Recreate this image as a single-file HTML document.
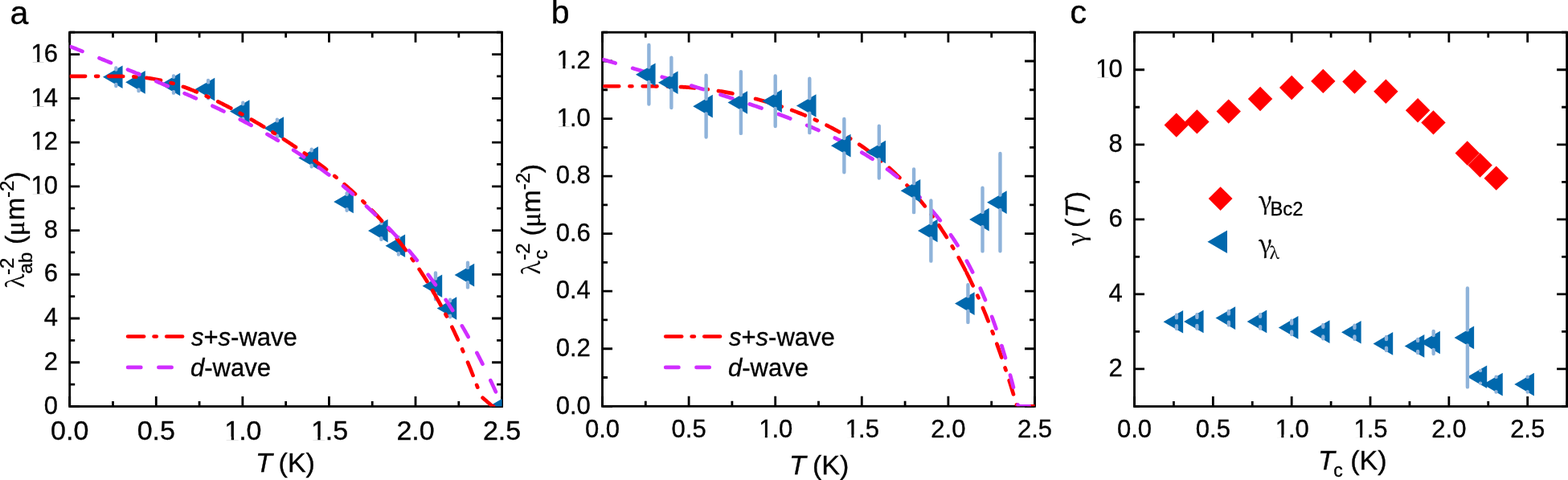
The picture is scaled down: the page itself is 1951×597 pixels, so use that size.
<!DOCTYPE html>
<html><head><meta charset="utf-8"><title>figure</title>
<style>html,body{margin:0;padding:0;background:#fff;overflow:hidden}svg{display:block}text{stroke:#000;stroke-width:0.35px;paint-order:stroke}</style>
</head><body>
<svg width="1951" height="597" viewBox="0 0 1951 597" font-family="'Liberation Sans', sans-serif">
<rect width="1951" height="597" fill="#fff"/>
<clipPath id="ca"><rect x="86.70" y="40.20" width="537.90" height="465.30"/></clipPath>
<path d="M86.70 505.50v-12.5M86.70 40.20v12.5M194.28 505.50v-12.5M194.28 40.20v12.5M301.86 505.50v-12.5M301.86 40.20v12.5M409.44 505.50v-12.5M409.44 40.20v12.5M517.02 505.50v-12.5M517.02 40.20v12.5M624.60 505.50v-12.5M624.60 40.20v12.5M140.49 505.50v-6.5M140.49 40.20v6.5M248.07 505.50v-6.5M248.07 40.20v6.5M355.65 505.50v-6.5M355.65 40.20v6.5M463.23 505.50v-6.5M463.23 40.20v6.5M570.81 505.50v-6.5M570.81 40.20v6.5M86.70 505.50h12.5M624.60 505.50h-12.5M86.70 450.76h12.5M624.60 450.76h-12.5M86.70 396.02h12.5M624.60 396.02h-12.5M86.70 341.28h12.5M624.60 341.28h-12.5M86.70 286.54h12.5M624.60 286.54h-12.5M86.70 231.79h12.5M624.60 231.79h-12.5M86.70 177.05h12.5M624.60 177.05h-12.5M86.70 122.31h12.5M624.60 122.31h-12.5M86.70 67.57h12.5M624.60 67.57h-12.5M86.70 478.13h6.5M624.60 478.13h-6.5M86.70 423.39h6.5M624.60 423.39h-6.5M86.70 368.65h6.5M624.60 368.65h-6.5M86.70 313.91h6.5M624.60 313.91h-6.5M86.70 259.16h6.5M624.60 259.16h-6.5M86.70 204.42h6.5M624.60 204.42h-6.5M86.70 149.68h6.5M624.60 149.68h-6.5M86.70 94.94h6.5M624.60 94.94h-6.5M86.70 40.20h6.5M624.60 40.20h-6.5" stroke="#000" stroke-width="2.8" fill="none"/>
<rect x="86.70" y="40.20" width="537.90" height="465.30" stroke="#000" stroke-width="2.8" fill="none"/>
<text x="72.00" y="514.70" font-size="31" text-anchor="end" >0</text>
<text x="72.00" y="459.96" font-size="31" text-anchor="end" >2</text>
<text x="72.00" y="405.22" font-size="31" text-anchor="end" >4</text>
<text x="72.00" y="350.48" font-size="31" text-anchor="end" >6</text>
<text x="72.00" y="295.74" font-size="31" text-anchor="end" >8</text>
<text x="37.52" y="240.99" font-size="31" ><tspan dx="1.02">1</tspan><tspan dx="-1.02">0</tspan></text>
<text x="37.52" y="186.25" font-size="31" ><tspan dx="1.02">1</tspan><tspan dx="-1.02">2</tspan></text>
<text x="37.52" y="131.51" font-size="31" ><tspan dx="1.02">1</tspan><tspan dx="-1.02">4</tspan></text>
<text x="37.52" y="76.77" font-size="31" ><tspan dx="1.02">1</tspan><tspan dx="-1.02">6</tspan></text>
<text x="86.70" y="547.00" font-size="34" text-anchor="middle" >0.0</text>
<text x="194.28" y="547.00" font-size="34" text-anchor="middle" >0.5</text>
<text x="278.23" y="547.00" font-size="34" ><tspan dx="1.12">1</tspan><tspan dx="-1.12">.</tspan>0</text>
<text x="385.81" y="547.00" font-size="34" ><tspan dx="1.12">1</tspan><tspan dx="-1.12">.</tspan>5</text>
<text x="517.02" y="547.00" font-size="34" text-anchor="middle" >2.0</text>
<text x="624.60" y="547.00" font-size="34" text-anchor="middle" >2.5</text>
<g clip-path="url(#ca)">
<path d="M127.96 95.76L152.56 81.46L152.56 110.06Z" fill="#0068AD"/>
<path d="M156.15 102.33L180.75 88.03L180.75 116.63Z" fill="#0068AD"/>
<path d="M199.61 105.07L224.21 90.77L224.21 119.37Z" fill="#0068AD"/>
<path d="M242.64 111.09L267.24 96.79L267.24 125.39Z" fill="#0068AD"/>
<path d="M285.89 138.46L310.49 124.16L310.49 152.76Z" fill="#0068AD"/>
<path d="M328.49 159.54L353.09 145.24L353.09 173.84Z" fill="#0068AD"/>
<path d="M371.31 196.49L395.91 182.19L395.91 210.79Z" fill="#0068AD"/>
<path d="M415.20 250.95L439.80 236.65L439.80 265.25Z" fill="#0068AD"/>
<path d="M458.02 287.08L482.62 272.78L482.62 301.38Z" fill="#0068AD"/>
<path d="M479.53 305.69L504.13 291.39L504.13 319.99Z" fill="#0068AD"/>
<path d="M525.58 355.78L550.18 341.48L550.18 370.08Z" fill="#0068AD"/>
<path d="M543.65 383.43L568.25 369.13L568.25 397.73Z" fill="#0068AD"/>
<path d="M565.60 342.10L590.20 327.80L590.20 356.40Z" fill="#0068AD"/>
<path d="M608.20 505.50L632.80 491.20L632.80 519.80Z" fill="#0068AD"/>
<path d="M144.36 84.46V86.56M144.36 104.96V107.06" stroke="#8FB3DA" stroke-width="4.4" stroke-linecap="round" fill="none"/>
<path d="M172.55 91.53V93.13M172.55 111.53V113.13" stroke="#8FB3DA" stroke-width="4.4" stroke-linecap="round" fill="none"/>
<path d="M216.01 94.47V95.87M216.01 114.27V115.67" stroke="#8FB3DA" stroke-width="4.4" stroke-linecap="round" fill="none"/>
<path d="M259.04 99.89V102.39M259.04 119.79V122.29" stroke="#8FB3DA" stroke-width="4.4" stroke-linecap="round" fill="none"/>
<path d="M302.29 127.66V129.26M302.29 147.66V149.26" stroke="#8FB3DA" stroke-width="4.4" stroke-linecap="round" fill="none"/>
<path d="M344.89 148.74V150.34M344.89 168.74V170.34" stroke="#8FB3DA" stroke-width="4.4" stroke-linecap="round" fill="none"/>
<path d="M387.71 185.69V187.29M387.71 205.69V207.29" stroke="#8FB3DA" stroke-width="4.4" stroke-linecap="round" fill="none"/>
<path d="M431.60 240.15V241.75M431.60 260.15V261.75" stroke="#8FB3DA" stroke-width="4.4" stroke-linecap="round" fill="none"/>
<path d="M474.42 276.28V277.88M474.42 296.28V297.88" stroke="#8FB3DA" stroke-width="4.4" stroke-linecap="round" fill="none"/>
<path d="M495.93 294.89V296.49M495.93 314.89V316.49" stroke="#8FB3DA" stroke-width="4.4" stroke-linecap="round" fill="none"/>
<path d="M541.98 339.38V346.58M541.98 364.98V372.18" stroke="#8FB3DA" stroke-width="4.4" stroke-linecap="round" fill="none"/>
<path d="M560.05 372.63V374.23M560.05 392.63V394.23" stroke="#8FB3DA" stroke-width="4.4" stroke-linecap="round" fill="none"/>
<path d="M582.00 326.80V332.90M582.00 351.30V357.40" stroke="#8FB3DA" stroke-width="4.4" stroke-linecap="round" fill="none"/>
<polyline points="86.70,94.82 88.04,94.82 89.39,94.82 90.73,94.82 92.08,94.82 93.42,94.82 94.77,94.82 96.11,94.82 97.46,94.82 98.80,94.82 100.15,94.82 101.49,94.82 102.84,94.82 104.18,94.82 105.53,94.82 106.87,94.82 108.22,94.82 109.56,94.82 110.91,94.82 112.25,94.82 113.59,94.82 114.94,94.82 116.28,94.82 117.63,94.82 118.97,94.82 120.32,94.82 121.66,94.82 123.01,94.82 124.35,94.82 125.70,94.82 127.04,94.82 128.39,94.82 129.73,94.83 131.08,94.83 132.42,94.83 133.77,94.83 135.11,94.83 136.46,94.83 137.80,94.84 139.15,94.84 140.49,94.84 141.83,94.85 143.18,94.86 144.52,94.87 145.87,94.88 147.21,94.89 148.56,94.91 149.90,94.93 151.25,94.95 152.59,94.97 153.94,95.00 155.28,95.03 156.63,95.06 157.97,95.10 159.32,95.15 160.66,95.20 162.01,95.25 163.35,95.31 164.70,95.38 166.04,95.45 167.38,95.53 168.73,95.61 170.07,95.70 171.42,95.80 172.76,95.91 174.11,96.02 175.45,96.14 176.80,96.27 178.14,96.41 179.49,96.55 180.83,96.71 182.18,96.87 183.52,97.04 184.87,97.22 186.21,97.41 187.56,97.61 188.90,97.82 190.25,98.03 191.59,98.26 192.94,98.50 194.28,98.74 195.62,98.99 196.97,99.26 198.31,99.53 199.66,99.81 201.00,100.11 202.35,100.41 203.69,100.72 205.04,101.04 206.38,101.37 207.73,101.71 209.07,102.06 210.42,102.41 211.76,102.78 213.11,103.16 214.45,103.54 215.80,103.93 217.14,104.33 218.49,104.74 219.83,105.16 221.18,105.59 222.52,106.03 223.86,106.47 225.21,106.92 226.55,107.38 227.90,107.85 229.24,108.32 230.59,108.81 231.93,109.30 233.28,109.79 234.62,110.30 235.97,110.81 237.31,111.33 238.66,111.86 240.00,112.39 241.35,112.93 242.69,113.47 244.04,114.03 245.38,114.59 246.73,115.15 248.07,115.72 249.41,116.30 250.76,116.88 252.10,117.47 253.45,118.06 254.79,118.66 256.14,119.27 257.48,119.88 258.83,120.49 260.17,121.11 261.52,121.74 262.86,122.37 264.21,123.01 265.55,123.65 266.90,124.29 268.24,124.94 269.59,125.59 270.93,126.25 272.28,126.92 273.62,127.58 274.96,128.25 276.31,128.93 277.65,129.61 279.00,130.29 280.34,130.98 281.69,131.67 283.03,132.37 284.38,133.07 285.72,133.77 287.07,134.48 288.41,135.19 289.76,135.90 291.10,136.62 292.45,137.34 293.79,138.06 295.14,138.79 296.48,139.52 297.83,140.25 299.17,140.99 300.52,141.73 301.86,142.48 303.20,143.22 304.55,143.98 305.89,144.73 307.24,145.49 308.58,146.25 309.93,147.01 311.27,147.78 312.62,148.55 313.96,149.32 315.31,150.10 316.65,150.87 318.00,151.66 319.34,152.44 320.69,153.23 322.03,154.02 323.38,154.82 324.72,155.62 326.07,156.42 327.41,157.22 328.75,158.03 330.10,158.84 331.44,159.65 332.79,160.47 334.13,161.29 335.48,162.11 336.82,162.94 338.17,163.77 339.51,164.60 340.86,165.44 342.20,166.28 343.55,167.12 344.89,167.97 346.24,168.82 347.58,169.67 348.93,170.53 350.27,171.39 351.62,172.25 352.96,173.12 354.31,173.99 355.65,174.87 356.99,175.74 358.34,176.63 359.68,177.51 361.03,178.40 362.37,179.30 363.72,180.19 365.06,181.10 366.41,182.00 367.75,182.91 369.10,183.82 370.44,184.74 371.79,185.66 373.13,186.59 374.48,187.52 375.82,188.46 377.17,189.40 378.51,190.34 379.86,191.29 381.20,192.24 382.55,193.20 383.89,194.16 385.23,195.13 386.58,196.10 387.92,197.07 389.27,198.06 390.61,199.04 391.96,200.03 393.30,201.03 394.65,202.03 395.99,203.04 397.34,204.05 398.68,205.07 400.03,206.09 401.37,207.12 402.72,208.16 404.06,209.20 405.41,210.24 406.75,211.30 408.10,212.35 409.44,213.42 410.78,214.49 412.13,215.56 413.47,216.65 414.82,217.74 416.16,218.83 417.51,219.93 418.85,221.04 420.20,222.16 421.54,223.28 422.89,224.41 424.23,225.54 425.58,226.69 426.92,227.84 428.27,229.00 429.61,230.16 430.96,231.33 432.30,232.51 433.65,233.70 434.99,234.90 436.33,236.10 437.68,237.31 439.02,238.53 440.37,239.76 441.71,241.00 443.06,242.24 444.40,243.49 445.75,244.76 447.09,246.03 448.44,247.31 449.78,248.60 451.13,249.89 452.47,251.20 453.82,252.52 455.16,253.85 456.51,255.18 457.85,256.53 459.20,257.89 460.54,259.25 461.89,260.63 463.23,262.02 464.57,263.41 465.92,264.82 467.26,266.24 468.61,267.67 469.95,269.11 471.30,270.57 472.64,272.03 473.99,273.51 475.33,275.00 476.68,276.50 478.02,278.01 479.37,279.53 480.71,281.07 482.06,282.62 483.40,284.18 484.75,285.76 486.09,287.34 487.44,288.95 488.78,290.56 490.12,292.19 491.47,293.84 492.81,295.49 494.16,297.17 495.50,298.85 496.85,300.55 498.19,302.27 499.54,304.00 500.88,305.75 502.23,307.51 503.57,309.29 504.92,311.09 506.26,312.90 507.61,314.73 508.95,316.57 510.30,318.44 511.64,320.32 512.99,322.21 514.33,324.13 515.68,326.06 517.02,328.01 518.36,329.98 519.71,331.97 521.05,333.98 522.40,336.01 523.74,338.05 525.09,340.12 526.43,342.21 527.78,344.32 529.12,346.45 530.47,348.60 531.81,350.77 533.16,352.97 534.50,355.18 535.85,357.42 537.19,359.68 538.54,361.97 539.88,364.28" stroke="#FF0000" stroke-width="4.7" stroke-dasharray="18 13.05 3 13.05" stroke-dashoffset="-1.43" stroke-linecap="round" stroke-linejoin="round" fill="none"/><polyline points="539.88,364.28 541.23,366.61 542.57,368.97 543.91,371.35 545.26,373.76 546.60,376.19 547.95,378.65 549.29,381.13 550.64,383.64 551.98,386.18 553.33,388.74 554.67,391.33 556.02,393.95 557.36,396.60 558.71,399.28 560.05,401.98 561.40,404.72 562.74,407.48 564.09,410.28 565.43,413.11 566.78,415.97 568.12,418.86 569.47,421.78 570.81,424.73 572.15,427.72 573.50,430.74 574.84,433.79 576.19,436.88 577.53,440.00 578.88,443.16 580.22,446.35 581.57,449.58 582.91,452.84 584.26,456.14 585.60,459.47 586.95,462.84 588.29,466.24 589.64,469.69 590.98,473.16 592.33,476.67 593.67,480.22 595.02,483.79 596.36,487.40 597.70,491.04 599.05,493.40 600.39,494.57 601.74,495.73 603.08,496.90 604.43,498.07 605.77,499.24 607.12,500.41 608.46,501.58 609.81,502.74 611.15,503.91 612.50,505.08 613.84,505.50 615.19,505.50 616.53,505.50 617.88,505.50 619.22,505.50 620.57,505.50 621.91,505.50 623.26,505.50 624.60,505.50" stroke="#FF0000" stroke-width="4.7" stroke-dasharray="17.5 12.8 3 14.8" stroke-dashoffset="0" stroke-linecap="round" stroke-linejoin="round" fill="none"/>
<polyline points="86.70,57.54 88.04,58.17 89.39,58.62 90.73,59.16 92.08,59.70 93.42,60.23 94.77,60.77 96.11,61.31 97.46,61.85 98.80,62.39 100.15,62.93 101.49,63.47 102.84,64.00 104.18,64.54 105.53,65.08 106.87,65.62 108.22,66.16 109.56,66.70 110.91,67.24 112.25,67.78 113.59,68.32 114.94,68.86 116.28,69.40 117.63,69.94 118.97,70.47 120.32,71.01 121.66,71.55 123.01,72.09 124.35,72.64 125.70,73.18 127.04,73.72 128.39,74.26 129.73,74.80 131.08,75.34 132.42,75.88 133.77,76.42 135.11,76.96 136.46,77.50 137.80,78.05 139.15,78.59 140.49,79.13 141.83,79.67 143.18,80.22 144.52,80.76 145.87,81.30 147.21,81.85 148.56,82.39 149.90,82.93 151.25,83.48 152.59,84.02 153.94,84.57 155.28,85.11 156.63,85.66 157.97,86.20 159.32,86.75 160.66,87.30 162.01,87.84 163.35,88.39 164.70,88.94 166.04,89.48 167.38,90.03 168.73,90.58 170.07,91.13 171.42,91.68 172.76,92.23 174.11,92.78 175.45,93.33 176.80,93.88 178.14,94.43 179.49,94.99 180.83,95.54 182.18,96.09 183.52,96.65 184.87,97.20 186.21,97.76 187.56,98.31 188.90,98.87 190.25,99.42 191.59,99.98 192.94,100.54 194.28,101.10 195.62,101.66 196.97,102.22 198.31,102.78 199.66,103.34 201.00,103.91 202.35,104.47 203.69,105.03 205.04,105.60 206.38,106.16 207.73,106.73 209.07,107.30 210.42,107.87 211.76,108.44 213.11,109.01 214.45,109.58 215.80,110.15 217.14,110.73 218.49,111.30 219.83,111.88 221.18,112.45 222.52,113.03 223.86,113.61 225.21,114.19 226.55,114.77 227.90,115.36 229.24,115.94 230.59,116.53 231.93,117.11 233.28,117.70 234.62,118.29 235.97,118.88 237.31,119.48 238.66,120.07 240.00,120.67 241.35,121.26 242.69,121.86 244.04,122.46 245.38,123.06 246.73,123.67 248.07,124.27 249.41,124.88 250.76,125.49 252.10,126.10 253.45,126.71 254.79,127.33 256.14,127.94 257.48,128.56 258.83,129.18 260.17,129.80 261.52,130.43 262.86,131.05 264.21,131.68 265.55,132.31 266.90,132.94 268.24,133.58 269.59,134.21 270.93,134.85 272.28,135.49 273.62,136.13 274.96,136.78 276.31,137.43 277.65,138.08 279.00,138.73 280.34,139.38 281.69,140.04 283.03,140.70 284.38,141.36 285.72,142.03 287.07,142.69 288.41,143.36 289.76,144.03 291.10,144.71 292.45,145.39 293.79,146.07 295.14,146.75 296.48,147.43 297.83,148.12 299.17,148.81 300.52,149.51 301.86,150.20 303.20,150.90 304.55,151.60 305.89,152.31 307.24,153.02 308.58,153.73 309.93,154.44 311.27,155.16 312.62,155.88 313.96,156.60 315.31,157.33 316.65,158.06 318.00,158.79 319.34,159.53 320.69,160.27 322.03,161.01 323.38,161.76 324.72,162.51 326.07,163.26 327.41,164.01 328.75,164.77 330.10,165.54 331.44,166.30 332.79,167.07 334.13,167.84 335.48,168.62 336.82,169.40 338.17,170.18 339.51,170.97 340.86,171.76 342.20,172.56 343.55,173.35 344.89,174.16 346.24,174.96 347.58,175.77 348.93,176.59 350.27,177.40 351.62,178.22 352.96,179.05 354.31,179.88 355.65,180.71 356.99,181.55 358.34,182.39 359.68,183.23 361.03,184.08 362.37,184.94 363.72,185.79 365.06,186.65 366.41,187.52 367.75,188.39 369.10,189.26 370.44,190.14 371.79,191.03 373.13,191.91 374.48,192.80 375.82,193.70 377.17,194.60 378.51,195.50 379.86,196.41 381.20,197.33 382.55,198.25 383.89,199.17 385.23,200.10 386.58,201.03 387.92,201.97 389.27,202.91 390.61,203.86 391.96,204.81 393.30,205.77 394.65,206.73 395.99,207.69 397.34,208.66 398.68,209.64 400.03,210.62 401.37,211.61 402.72,212.60 404.06,213.60 405.41,214.60 406.75,215.61 408.10,216.62 409.44,217.64 410.78,218.66 412.13,219.69 413.47,220.73 414.82,221.77 416.16,222.81 417.51,223.86 418.85,224.92 420.20,225.98 421.54,227.05 422.89,228.13 424.23,229.21 425.58,230.29 426.92,231.38 428.27,232.48 429.61,233.59 430.96,234.70 432.30,235.81 433.65,236.94 434.99,238.06 436.33,239.20 437.68,240.34 439.02,241.49 440.37,242.64 441.71,243.81 443.06,244.97 444.40,246.15 445.75,247.33 447.09,248.52 448.44,249.71 449.78,250.91 451.13,252.12 452.47,253.34 453.82,254.56 455.16,255.79 456.51,257.03 457.85,258.27 459.20,259.52 460.54,260.78 461.89,262.05 463.23,263.32 464.57,264.61 465.92,265.90 467.26,267.19 468.61,268.50 469.95,269.81 471.30,271.13 472.64,272.46 473.99,273.80 475.33,275.15 476.68,276.50 478.02,277.86 479.37,279.24 480.71,280.62 482.06,282.00 483.40,283.40 484.75,284.81 486.09,286.22 487.44,287.65 488.78,289.08 490.12,290.52 491.47,291.98 492.81,293.44 494.16,294.91 495.50,296.39 496.85,297.88 498.19,299.38 499.54,300.89 500.88,302.41 502.23,303.94 503.57,305.48 504.92,307.03 506.26,308.59 507.61,310.17 508.95,311.75 510.30,313.34 511.64,314.95 512.99,316.56 514.33,318.19 515.68,319.83 517.02,321.48 518.36,323.14 519.71,324.81 521.05,326.50 522.40,328.19 523.74,329.90 525.09,331.62 526.43,333.35 527.78,335.10 529.12,336.86 530.47,338.63 531.81,340.41 533.16,342.21 534.50,344.02 535.85,345.85 537.19,347.68 538.54,349.53 539.88,351.40 541.23,353.28 542.57,355.17 543.91,357.08 545.26,359.00 546.60,360.94 547.95,362.89 549.29,364.85 550.64,366.84 551.98,368.83 553.33,370.84 554.67,372.87 556.02,374.92 557.36,376.98 558.71,379.05 560.05,381.15 561.40,383.26 562.74,385.38 564.09,387.53 565.43,389.69 566.78,391.86 568.12,394.06 569.47,396.27 570.81,398.51 572.15,400.76 573.50,403.02 574.84,405.31 576.19,407.62 577.53,409.94 578.88,412.29 580.22,414.65 581.57,417.03 582.91,419.44 584.26,421.86 585.60,424.30 586.95,426.77 588.29,429.25 589.64,431.76 590.98,434.29 592.33,436.84 593.67,439.41 595.02,442.00 596.36,444.61 597.70,447.25 599.05,449.90 600.39,452.58 601.74,455.29 603.08,458.01 604.43,460.76 605.77,463.53 607.12,466.32 608.46,469.14 609.81,471.98 611.15,474.84 612.50,477.72 613.84,480.62 615.19,483.55 616.53,486.49 617.88,489.46 619.22,492.44 620.57,495.43 621.91,498.44 623.26,501.45 624.60,504.43" stroke="#D02EFF" stroke-width="4.7" stroke-dasharray="15.6 22.65" stroke-dashoffset="-1.4" stroke-linecap="round" stroke-linejoin="round" fill="none"/>
</g>
<clipPath id="cb"><rect x="749.50" y="40.20" width="538.00" height="465.10"/></clipPath>
<path d="M749.50 505.30v-12.5M749.50 40.20v12.5M857.10 505.30v-12.5M857.10 40.20v12.5M964.70 505.30v-12.5M964.70 40.20v12.5M1072.30 505.30v-12.5M1072.30 40.20v12.5M1179.90 505.30v-12.5M1179.90 40.20v12.5M1287.50 505.30v-12.5M1287.50 40.20v12.5M803.30 505.30v-6.5M803.30 40.20v6.5M910.90 505.30v-6.5M910.90 40.20v6.5M1018.50 505.30v-6.5M1018.50 40.20v6.5M1126.10 505.30v-6.5M1126.10 40.20v6.5M1233.70 505.30v-6.5M1233.70 40.20v6.5M749.50 505.30h12.5M1287.50 505.30h-12.5M749.50 433.75h12.5M1287.50 433.75h-12.5M749.50 362.19h12.5M1287.50 362.19h-12.5M749.50 290.64h12.5M1287.50 290.64h-12.5M749.50 219.08h12.5M1287.50 219.08h-12.5M749.50 147.53h12.5M1287.50 147.53h-12.5M749.50 75.98h12.5M1287.50 75.98h-12.5M749.50 469.52h6.5M1287.50 469.52h-6.5M749.50 397.97h6.5M1287.50 397.97h-6.5M749.50 326.42h6.5M1287.50 326.42h-6.5M749.50 254.86h6.5M1287.50 254.86h-6.5M749.50 183.31h6.5M1287.50 183.31h-6.5M749.50 111.75h6.5M1287.50 111.75h-6.5M749.50 40.20h6.5M1287.50 40.20h-6.5" stroke="#000" stroke-width="2.8" fill="none"/>
<rect x="749.50" y="40.20" width="538.00" height="465.10" stroke="#000" stroke-width="2.8" fill="none"/>
<text x="734.80" y="514.50" font-size="31" text-anchor="end" >0.0</text>
<text x="734.80" y="442.95" font-size="31" text-anchor="end" >0.2</text>
<text x="734.80" y="371.39" font-size="31" text-anchor="end" >0.4</text>
<text x="734.80" y="299.84" font-size="31" text-anchor="end" >0.6</text>
<text x="734.80" y="228.28" font-size="31" text-anchor="end" >0.8</text>
<text x="691.71" y="156.73" font-size="31" ><tspan dx="1.02">1</tspan><tspan dx="-1.02">.</tspan>0</text>
<text x="691.71" y="85.18" font-size="31" ><tspan dx="1.02">1</tspan><tspan dx="-1.02">.</tspan>2</text>
<text x="749.50" y="544.30" font-size="31" text-anchor="middle" >0.0</text>
<text x="857.10" y="544.30" font-size="31" text-anchor="middle" >0.5</text>
<text x="943.15" y="544.30" font-size="31" ><tspan dx="1.02">1</tspan><tspan dx="-1.02">.</tspan>0</text>
<text x="1050.75" y="544.30" font-size="31" ><tspan dx="1.02">1</tspan><tspan dx="-1.02">.</tspan>5</text>
<text x="1179.90" y="544.30" font-size="31" text-anchor="middle" >2.0</text>
<text x="1287.50" y="544.30" font-size="31" text-anchor="middle" >2.5</text>
<g clip-path="url(#cb)">
<polyline points="749.50,107.23 750.85,107.23 752.19,107.23 753.53,107.23 754.88,107.23 756.23,107.23 757.57,107.23 758.91,107.23 760.26,107.23 761.61,107.23 762.95,107.23 764.29,107.23 765.64,107.23 766.99,107.23 768.33,107.23 769.67,107.23 771.02,107.23 772.37,107.23 773.71,107.23 775.05,107.23 776.40,107.23 777.75,107.23 779.09,107.23 780.44,107.23 781.78,107.23 783.12,107.23 784.47,107.23 785.82,107.23 787.16,107.23 788.50,107.23 789.85,107.23 791.20,107.23 792.54,107.23 793.88,107.23 795.23,107.23 796.58,107.23 797.92,107.23 799.26,107.23 800.61,107.23 801.96,107.24 803.30,107.24 804.64,107.24 805.99,107.24 807.34,107.24 808.68,107.25 810.02,107.25 811.37,107.26 812.72,107.26 814.06,107.27 815.40,107.28 816.75,107.29 818.10,107.30 819.44,107.31 820.78,107.33 822.13,107.34 823.48,107.36 824.82,107.38 826.16,107.40 827.51,107.42 828.86,107.45 830.20,107.48 831.55,107.51 832.89,107.55 834.24,107.58 835.58,107.62 836.92,107.67 838.27,107.71 839.62,107.76 840.96,107.81 842.31,107.87 843.65,107.93 845.00,107.99 846.34,108.06 847.69,108.13 849.03,108.21 850.38,108.28 851.72,108.37 853.07,108.45 854.41,108.54 855.75,108.64 857.10,108.74 858.44,108.84 859.79,108.95 861.13,109.06 862.48,109.17 863.83,109.29 865.17,109.42 866.51,109.55 867.86,109.68 869.21,109.82 870.55,109.96 871.89,110.10 873.24,110.25 874.59,110.41 875.93,110.57 877.27,110.73 878.62,110.90 879.97,111.07 881.31,111.24 882.65,111.42 884.00,111.61 885.35,111.80 886.69,111.99 888.03,112.19 889.38,112.39 890.73,112.59 892.07,112.80 893.41,113.02 894.76,113.24 896.11,113.46 897.45,113.68 898.80,113.91 900.14,114.15 901.49,114.39 902.83,114.63 904.17,114.87 905.52,115.12 906.87,115.38 908.21,115.64 909.56,115.90 910.90,116.16 912.25,116.43 913.59,116.71 914.93,116.99 916.28,117.27 917.62,117.55 918.97,117.84 920.32,118.14 921.66,118.43 923.00,118.73 924.35,119.04 925.69,119.35 927.04,119.66 928.38,119.98 929.73,120.30 931.08,120.62 932.42,120.95 933.76,121.28 935.11,121.61 936.46,121.95 937.80,122.30 939.14,122.64 940.49,123.00 941.84,123.35 943.18,123.71 944.52,124.07 945.87,124.44 947.22,124.81 948.56,125.19 949.90,125.56 951.25,125.95 952.60,126.33 953.94,126.72 955.28,127.12 956.63,127.52 957.98,127.92 959.32,128.33 960.66,128.74 962.01,129.16 963.36,129.58 964.70,130.00 966.05,130.43 967.39,130.86 968.74,131.30 970.08,131.74 971.42,132.19 972.77,132.64 974.12,133.09 975.46,133.55 976.81,134.02 978.15,134.48 979.50,134.96 980.84,135.43 982.18,135.92 983.53,136.40 984.88,136.90 986.22,137.39 987.57,137.90 988.91,138.40 990.25,138.91 991.60,139.43 992.94,139.95 994.29,140.48 995.63,141.01 996.98,141.55 998.33,142.09 999.67,142.64 1001.01,143.19 1002.36,143.75 1003.71,144.32 1005.05,144.89 1006.39,145.46 1007.74,146.04 1009.09,146.63 1010.43,147.22 1011.77,147.82 1013.12,148.42 1014.47,149.03 1015.81,149.65 1017.15,150.27 1018.50,150.90 1019.85,151.53 1021.19,152.17 1022.54,152.82 1023.88,153.47 1025.22,154.13 1026.57,154.79 1027.91,155.47 1029.26,156.14 1030.61,156.83 1031.95,157.52 1033.30,158.22 1034.64,158.93 1035.99,159.64 1037.33,160.36 1038.67,161.09 1040.02,161.82 1041.37,162.56 1042.71,163.31 1044.06,164.06 1045.40,164.83 1046.74,165.60 1048.09,166.38 1049.43,167.16 1050.78,167.96 1052.12,168.76 1053.47,169.57 1054.82,170.39 1056.16,171.21 1057.51,172.05 1058.85,172.89 1060.19,173.74 1061.54,174.60 1062.88,175.47 1064.23,176.34 1065.58,177.23 1066.92,178.12 1068.26,179.02 1069.61,179.94 1070.95,180.86 1072.30,181.79 1073.64,182.73 1074.99,183.68 1076.34,184.64 1077.68,185.60 1079.03,186.58 1080.37,187.57 1081.72,188.57 1083.06,189.58 1084.40,190.59 1085.75,191.62 1087.10,192.66 1088.44,193.71 1089.79,194.77 1091.13,195.84 1092.47,196.92 1093.82,198.02 1095.16,199.12 1096.51,200.24 1097.86,201.36 1099.20,202.50 1100.55,203.65 1101.89,204.81 1103.24,205.99 1104.58,207.17 1105.92,208.37 1107.27,209.58 1108.62,210.80 1109.96,212.04 1111.31,213.29 1112.65,214.55 1113.99,215.82 1115.34,217.11 1116.68,218.41 1118.03,219.73 1119.38,221.05 1120.72,222.40 1122.07,223.75 1123.41,225.12 1124.76,226.51 1126.10,227.91 1127.44,229.32 1128.79,230.75 1130.13,232.20 1131.48,233.66 1132.83,235.13 1134.17,236.63 1135.51,238.13 1136.86,239.66 1138.20,241.20 1139.55,242.75 1140.89,244.33 1142.24,245.92 1143.59,247.52 1144.93,249.15 1146.28,250.79 1147.62,252.45 1148.97,254.13 1150.31,255.82 1151.65,257.54 1153.00,259.27 1154.35,261.03 1155.69,262.80 1157.04,264.59 1158.38,266.40 1159.72,268.23 1161.07,270.09 1162.41,271.96 1163.76,273.85 1165.11,275.77 1166.45,277.70 1167.80,279.66 1169.14,281.64 1170.49,283.64 1171.83,285.67 1173.17,287.72 1174.52,289.79 1175.87,291.88 1177.21,294.00 1178.56,296.15 1179.90,298.31 1181.24,300.51 1182.59,302.72 1183.93,304.97 1185.28,307.24 1186.62,309.53 1187.97,311.85 1189.32,314.20 1190.66,316.58 1192.01,318.99 1193.35,321.42 1194.69,323.88 1196.04,326.37 1197.38,328.89 1198.73,331.44 1200.08,334.02 1201.42,336.63 1202.76,339.28" stroke="#FF0000" stroke-width="4.7" stroke-dasharray="17.8 13.23 3 13.23" stroke-dashoffset="-2.91" stroke-linecap="round" stroke-linejoin="round" fill="none"/><polyline points="1202.76,339.28 1204.11,341.95 1205.45,344.66 1206.80,347.39 1208.14,350.17 1209.49,352.97 1210.84,355.81 1212.18,358.68 1213.53,361.59 1214.87,364.53 1216.22,367.51 1217.56,370.53 1218.90,373.58 1220.25,376.67 1221.60,379.80 1222.94,382.97 1224.29,386.17 1225.63,389.42 1226.97,392.70 1228.32,396.03 1229.66,399.40 1231.01,402.80 1232.36,406.25 1233.70,409.75 1235.05,413.28 1236.39,416.86 1237.74,420.49 1239.08,424.16 1240.42,427.87 1241.77,431.63 1243.12,435.44 1244.46,439.29 1245.81,443.19 1247.15,447.14 1248.49,451.13 1249.84,455.18 1251.18,459.27 1252.53,463.40 1253.88,467.59 1255.22,471.82 1256.57,476.10 1257.91,480.42 1259.26,484.78 1260.60,489.19 1261.95,493.62 1263.29,498.08 1264.64,502.54 1265.98,505.30 1267.33,505.30 1268.67,505.30 1270.01,505.30 1271.36,505.30 1272.70,505.30 1274.05,505.30 1275.39,505.30 1276.74,505.30 1278.09,505.30 1279.43,505.30 1280.78,505.30 1282.12,505.30 1283.47,505.30 1284.81,505.30 1286.16,505.30 1287.50,505.30" stroke="#FF0000" stroke-width="4.7" stroke-dasharray="17.8 13.65 3 13.65" stroke-dashoffset="0" stroke-linecap="round" stroke-linejoin="round" fill="none"/>
<polyline points="749.50,73.75 750.85,74.31 752.19,74.56 753.53,74.94 754.88,75.33 756.23,75.73 757.57,76.13 758.91,76.52 760.26,76.92 761.61,77.31 762.95,77.71 764.29,78.11 765.64,78.50 766.99,78.90 768.33,79.29 769.67,79.69 771.02,80.09 772.37,80.48 773.71,80.88 775.05,81.28 776.40,81.67 777.75,82.07 779.09,82.47 780.44,82.86 781.78,83.26 783.12,83.65 784.47,84.05 785.82,84.45 787.16,84.85 788.50,85.24 789.85,85.64 791.20,86.04 792.54,86.43 793.88,86.83 795.23,87.23 796.58,87.62 797.92,88.02 799.26,88.42 800.61,88.82 801.96,89.21 803.30,89.61 804.64,90.01 805.99,90.41 807.34,90.81 808.68,91.20 810.02,91.60 811.37,92.00 812.72,92.40 814.06,92.80 815.40,93.20 816.75,93.59 818.10,93.99 819.44,94.39 820.78,94.79 822.13,95.19 823.48,95.59 824.82,95.99 826.16,96.39 827.51,96.79 828.86,97.19 830.20,97.59 831.55,97.99 832.89,98.39 834.24,98.79 835.58,99.20 836.92,99.60 838.27,100.00 839.62,100.40 840.96,100.80 842.31,101.21 843.65,101.61 845.00,102.01 846.34,102.41 847.69,102.82 849.03,103.22 850.38,103.63 851.72,104.03 853.07,104.44 854.41,104.84 855.75,105.25 857.10,105.65 858.44,106.06 859.79,106.47 861.13,106.87 862.48,107.28 863.83,107.69 865.17,108.10 866.51,108.51 867.86,108.91 869.21,109.32 870.55,109.73 871.89,110.14 873.24,110.56 874.59,110.97 875.93,111.38 877.27,111.79 878.62,112.20 879.97,112.62 881.31,113.03 882.65,113.45 884.00,113.86 885.35,114.28 886.69,114.70 888.03,115.11 889.38,115.53 890.73,115.95 892.07,116.37 893.41,116.79 894.76,117.21 896.11,117.63 897.45,118.05 898.80,118.48 900.14,118.90 901.49,119.32 902.83,119.75 904.17,120.17 905.52,120.60 906.87,121.03 908.21,121.46 909.56,121.89 910.90,122.32 912.25,122.75 913.59,123.18 914.93,123.62 916.28,124.05 917.62,124.49 918.97,124.92 920.32,125.36 921.66,125.80 923.00,126.24 924.35,126.68 925.69,127.12 927.04,127.56 928.38,128.01 929.73,128.45 931.08,128.90 932.42,129.35 933.76,129.80 935.11,130.25 936.46,130.70 937.80,131.15 939.14,131.61 940.49,132.07 941.84,132.52 943.18,132.98 944.52,133.44 945.87,133.91 947.22,134.37 948.56,134.84 949.90,135.30 951.25,135.77 952.60,136.24 953.94,136.71 955.28,137.19 956.63,137.66 957.98,138.14 959.32,138.62 960.66,139.10 962.01,139.58 963.36,140.07 964.70,140.56 966.05,141.04 967.39,141.54 968.74,142.03 970.08,142.52 971.42,143.02 972.77,143.52 974.12,144.02 975.46,144.52 976.81,145.03 978.15,145.54 979.50,146.05 980.84,146.56 982.18,147.08 983.53,147.60 984.88,148.12 986.22,148.64 987.57,149.16 988.91,149.69 990.25,150.22 991.60,150.76 992.94,151.29 994.29,151.83 995.63,152.37 996.98,152.92 998.33,153.46 999.67,154.02 1001.01,154.57 1002.36,155.13 1003.71,155.68 1005.05,156.25 1006.39,156.81 1007.74,157.38 1009.09,157.95 1010.43,158.53 1011.77,159.11 1013.12,159.69 1014.47,160.28 1015.81,160.87 1017.15,161.46 1018.50,162.06 1019.85,162.66 1021.19,163.26 1022.54,163.87 1023.88,164.48 1025.22,165.10 1026.57,165.72 1027.91,166.34 1029.26,166.97 1030.61,167.60 1031.95,168.24 1033.30,168.88 1034.64,169.52 1035.99,170.17 1037.33,170.82 1038.67,171.48 1040.02,172.14 1041.37,172.81 1042.71,173.48 1044.06,174.16 1045.40,174.84 1046.74,175.53 1048.09,176.22 1049.43,176.92 1050.78,177.62 1052.12,178.33 1053.47,179.04 1054.82,179.76 1056.16,180.48 1057.51,181.21 1058.85,181.94 1060.19,182.68 1061.54,183.43 1062.88,184.18 1064.23,184.94 1065.58,185.70 1066.92,186.47 1068.26,187.25 1069.61,188.03 1070.95,188.82 1072.30,189.62 1073.64,190.42 1074.99,191.23 1076.34,192.04 1077.68,192.87 1079.03,193.70 1080.37,194.53 1081.72,195.38 1083.06,196.23 1084.40,197.09 1085.75,197.95 1087.10,198.83 1088.44,199.71 1089.79,200.60 1091.13,201.50 1092.47,202.41 1093.82,203.32 1095.16,204.24 1096.51,205.17 1097.86,206.12 1099.20,207.06 1100.55,208.02 1101.89,208.99 1103.24,209.97 1104.58,210.95 1105.92,211.95 1107.27,212.96 1108.62,213.97 1109.96,215.00 1111.31,216.03 1112.65,217.08 1113.99,218.14 1115.34,219.20 1116.68,220.28 1118.03,221.37 1119.38,222.47 1120.72,223.59 1122.07,224.71 1123.41,225.85 1124.76,227.00 1126.10,228.16 1127.44,229.33 1128.79,230.51 1130.13,231.71 1131.48,232.93 1132.83,234.15 1134.17,235.39 1135.51,236.64 1136.86,237.91 1138.20,239.19 1139.55,240.49 1140.89,241.80 1142.24,243.12 1143.59,244.47 1144.93,245.82 1146.28,247.20 1147.62,248.59 1148.97,249.99 1150.31,251.42 1151.65,252.86 1153.00,254.31 1154.35,255.79 1155.69,257.28 1157.04,258.80 1158.38,260.33 1159.72,261.88 1161.07,263.45 1162.41,265.04 1163.76,266.65 1165.11,268.28 1166.45,269.93 1167.80,271.61 1169.14,273.30 1170.49,275.02 1171.83,276.77 1173.17,278.53 1174.52,280.32 1175.87,282.13 1177.21,283.97 1178.56,285.84 1179.90,287.73 1181.24,289.64 1182.59,291.59 1183.93,293.56 1185.28,295.56 1186.62,297.58 1187.97,299.64 1189.32,301.73 1190.66,303.85 1192.01,305.99 1193.35,308.18 1194.69,310.39 1196.04,312.64 1197.38,314.92 1198.73,317.23 1200.08,319.59 1201.42,321.97 1202.76,324.40 1204.11,326.86 1205.45,329.37 1206.80,331.91 1208.14,334.49 1209.49,337.12 1210.84,339.79 1212.18,342.50 1213.53,345.25 1214.87,348.06 1216.22,350.91 1217.56,353.80 1218.90,356.75 1220.25,359.75 1221.60,362.80 1222.94,365.90 1224.29,369.06 1225.63,372.27 1226.97,375.54 1228.32,378.86 1229.66,382.25 1231.01,385.70 1232.36,389.21 1233.70,392.78 1235.05,396.42 1236.39,400.13 1237.74,403.91 1239.08,407.76 1240.42,411.68 1241.77,415.68 1243.12,419.75 1244.46,423.90 1245.81,428.13 1247.15,432.44 1248.49,436.83 1249.84,441.31 1251.18,445.88 1252.53,450.54 1253.88,455.29 1255.22,460.13 1256.57,465.06 1257.91,470.09 1259.26,475.21 1260.60,480.43 1261.95,485.73 1263.29,491.13 1264.64,496.60 1265.98,502.12 1267.33,505.30 1268.67,505.30 1270.01,505.30 1271.36,505.30 1272.70,505.30 1274.05,505.30 1275.39,505.30 1276.74,505.30 1278.09,505.30 1279.43,505.30 1280.78,505.30 1282.12,505.30 1283.47,505.30 1284.81,505.30 1286.16,505.30 1287.50,505.30" stroke="#D02EFF" stroke-width="4.7" stroke-dasharray="15.6 22.46" stroke-dashoffset="-1.26" stroke-linecap="round" stroke-linejoin="round" fill="none"/>
<path d="M790.99 92.79L815.59 78.49L815.59 107.09Z" fill="#0068AD"/>
<path d="M818.96 102.81L843.56 88.51L843.56 117.11Z" fill="#0068AD"/>
<path d="M862.22 132.15L886.82 117.85L886.82 146.45Z" fill="#0068AD"/>
<path d="M905.48 127.50L930.08 113.20L930.08 141.80Z" fill="#0068AD"/>
<path d="M948.30 125.71L972.90 111.41L972.90 140.01Z" fill="#0068AD"/>
<path d="M990.91 131.43L1015.51 117.13L1015.51 145.73Z" fill="#0068AD"/>
<path d="M1033.95 181.16L1058.55 166.86L1058.55 195.46Z" fill="#0068AD"/>
<path d="M1077.42 189.03L1102.02 174.73L1102.02 203.33Z" fill="#0068AD"/>
<path d="M1120.68 237.33L1145.28 223.03L1145.28 251.63Z" fill="#0068AD"/>
<path d="M1141.98 287.06L1166.58 272.76L1166.58 301.36Z" fill="#0068AD"/>
<path d="M1188.03 377.58L1212.63 363.28L1212.63 391.88Z" fill="#0068AD"/>
<path d="M1206.11 273.11L1230.71 258.81L1230.71 287.41Z" fill="#0068AD"/>
<path d="M1228.06 251.64L1252.66 237.34L1252.66 265.94Z" fill="#0068AD"/>
<path d="M807.39 55.99V83.59M807.39 101.99V129.59" stroke="#8FB3DA" stroke-width="4.4" stroke-linecap="round" fill="none"/>
<path d="M835.36 71.61V93.61M835.36 112.01V134.01" stroke="#8FB3DA" stroke-width="4.4" stroke-linecap="round" fill="none"/>
<path d="M878.62 93.75V122.95M878.62 141.35V170.55" stroke="#8FB3DA" stroke-width="4.4" stroke-linecap="round" fill="none"/>
<path d="M921.88 89.10V118.30M921.88 136.70V165.90" stroke="#8FB3DA" stroke-width="4.4" stroke-linecap="round" fill="none"/>
<path d="M964.70 94.41V116.51M964.70 134.91V157.01" stroke="#8FB3DA" stroke-width="4.4" stroke-linecap="round" fill="none"/>
<path d="M1007.31 97.73V122.23M1007.31 140.63V165.13" stroke="#8FB3DA" stroke-width="4.4" stroke-linecap="round" fill="none"/>
<path d="M1050.35 147.96V171.96M1050.35 190.36V214.36" stroke="#8FB3DA" stroke-width="4.4" stroke-linecap="round" fill="none"/>
<path d="M1093.82 156.63V179.83M1093.82 198.23V221.43" stroke="#8FB3DA" stroke-width="4.4" stroke-linecap="round" fill="none"/>
<path d="M1137.08 210.53V228.13M1137.08 246.53V264.13" stroke="#8FB3DA" stroke-width="4.4" stroke-linecap="round" fill="none"/>
<path d="M1158.38 249.46V277.86M1158.38 296.26V324.66" stroke="#8FB3DA" stroke-width="4.4" stroke-linecap="round" fill="none"/>
<path d="M1204.43 354.28V368.38M1204.43 386.78V400.88" stroke="#8FB3DA" stroke-width="4.4" stroke-linecap="round" fill="none"/>
<path d="M1222.51 233.81V263.91M1222.51 282.31V312.41" stroke="#8FB3DA" stroke-width="4.4" stroke-linecap="round" fill="none"/>
<path d="M1244.46 191.04V242.44M1244.46 260.84V312.24" stroke="#8FB3DA" stroke-width="4.4" stroke-linecap="round" fill="none"/>
</g>
<clipPath id="cc"><rect x="1411.50" y="40.20" width="538.10" height="465.30"/></clipPath>
<path d="M1411.50 505.50v-12.5M1411.50 40.20v12.5M1509.34 505.50v-12.5M1509.34 40.20v12.5M1607.17 505.50v-12.5M1607.17 40.20v12.5M1705.01 505.50v-12.5M1705.01 40.20v12.5M1802.85 505.50v-12.5M1802.85 40.20v12.5M1900.68 505.50v-12.5M1900.68 40.20v12.5M1460.42 505.50v-6.5M1460.42 40.20v6.5M1558.25 505.50v-6.5M1558.25 40.20v6.5M1656.09 505.50v-6.5M1656.09 40.20v6.5M1753.93 505.50v-6.5M1753.93 40.20v6.5M1851.76 505.50v-6.5M1851.76 40.20v6.5M1949.60 505.50v-6.5M1949.60 40.20v6.5M1411.50 458.97h12.5M1949.60 458.97h-12.5M1411.50 365.91h12.5M1949.60 365.91h-12.5M1411.50 272.85h12.5M1949.60 272.85h-12.5M1411.50 179.79h12.5M1949.60 179.79h-12.5M1411.50 86.73h12.5M1949.60 86.73h-12.5M1411.50 505.50h6.5M1949.60 505.50h-6.5M1411.50 412.44h6.5M1949.60 412.44h-6.5M1411.50 319.38h6.5M1949.60 319.38h-6.5M1411.50 226.32h6.5M1949.60 226.32h-6.5M1411.50 133.26h6.5M1949.60 133.26h-6.5M1411.50 40.20h6.5M1949.60 40.20h-6.5" stroke="#000" stroke-width="2.8" fill="none"/>
<rect x="1411.50" y="40.20" width="538.10" height="465.30" stroke="#000" stroke-width="2.8" fill="none"/>
<text x="1396.80" y="468.17" font-size="31" text-anchor="end" >2</text>
<text x="1396.80" y="375.11" font-size="31" text-anchor="end" >4</text>
<text x="1396.80" y="282.05" font-size="31" text-anchor="end" >6</text>
<text x="1396.80" y="188.99" font-size="31" text-anchor="end" >8</text>
<text x="1362.32" y="95.93" font-size="31" ><tspan dx="1.02">1</tspan><tspan dx="-1.02">0</tspan></text>
<text x="1411.50" y="544.30" font-size="31" text-anchor="middle" >0.0</text>
<text x="1509.34" y="544.30" font-size="31" text-anchor="middle" >0.5</text>
<text x="1585.63" y="544.30" font-size="31" ><tspan dx="1.02">1</tspan><tspan dx="-1.02">.</tspan>0</text>
<text x="1683.46" y="544.30" font-size="31" ><tspan dx="1.02">1</tspan><tspan dx="-1.02">.</tspan>5</text>
<text x="1802.85" y="544.30" font-size="31" text-anchor="middle" >2.0</text>
<text x="1900.68" y="544.30" font-size="31" text-anchor="middle" >2.5</text>
<g clip-path="url(#cc)">
<path d="M1463.74 140.39L1478.94 155.59L1463.74 170.79L1448.54 155.59Z" fill="#FF0000"/>
<path d="M1489.38 136.21L1504.58 151.41L1489.38 166.61L1474.18 151.41Z" fill="#FF0000"/>
<path d="M1528.71 123.41L1543.91 138.61L1528.71 153.81L1513.51 138.61Z" fill="#FF0000"/>
<path d="M1568.04 107.82L1583.24 123.02L1568.04 138.22L1552.84 123.02Z" fill="#FF0000"/>
<path d="M1607.17 93.86L1622.37 109.06L1607.17 124.26L1591.97 109.06Z" fill="#FF0000"/>
<path d="M1646.31 85.68L1661.51 100.88L1646.31 116.08L1631.11 100.88Z" fill="#FF0000"/>
<path d="M1685.44 86.42L1700.64 101.62L1685.44 116.82L1670.24 101.62Z" fill="#FF0000"/>
<path d="M1724.38 98.52L1739.58 113.72L1724.38 128.92L1709.18 113.72Z" fill="#FF0000"/>
<path d="M1764.10 122.02L1779.30 137.22L1764.10 152.42L1748.90 137.22Z" fill="#FF0000"/>
<path d="M1783.47 137.18L1798.67 152.38L1783.47 167.58L1768.27 152.38Z" fill="#FF0000"/>
<path d="M1825.74 175.29L1840.94 190.49L1825.74 205.69L1810.54 190.49Z" fill="#FF0000"/>
<path d="M1841.59 190.32L1856.79 205.52L1841.59 220.72L1826.39 205.52Z" fill="#FF0000"/>
<path d="M1861.74 206.47L1876.94 221.67L1861.74 236.87L1846.54 221.67Z" fill="#FF0000"/>
<path d="M1447.54 400.20L1472.14 385.90L1472.14 414.50Z" fill="#0068AD"/>
<path d="M1472.98 399.88L1497.58 385.58L1497.58 414.18Z" fill="#0068AD"/>
<path d="M1512.50 395.60L1537.10 381.30L1537.10 409.90Z" fill="#0068AD"/>
<path d="M1551.64 399.88L1576.24 385.58L1576.24 414.18Z" fill="#0068AD"/>
<path d="M1590.77 407.41L1615.37 393.11L1615.37 421.71Z" fill="#0068AD"/>
<path d="M1629.91 412.58L1654.51 398.28L1654.51 426.88Z" fill="#0068AD"/>
<path d="M1669.04 413.18L1693.64 398.88L1693.64 427.48Z" fill="#0068AD"/>
<path d="M1708.57 427.42L1733.17 413.12L1733.17 441.72Z" fill="#0068AD"/>
<path d="M1747.70 430.40L1772.30 416.10L1772.30 444.70Z" fill="#0068AD"/>
<path d="M1767.27 425.93L1791.87 411.63L1791.87 440.23Z" fill="#0068AD"/>
<path d="M1809.53 419.88L1834.13 405.58L1834.13 434.18Z" fill="#0068AD"/>
<path d="M1825.58 468.74L1850.18 454.44L1850.18 483.04Z" fill="#0068AD"/>
<path d="M1845.15 478.09L1869.75 463.79L1869.75 492.39Z" fill="#0068AD"/>
<path d="M1884.28 478.09L1908.88 463.79L1908.88 492.39Z" fill="#0068AD"/>
<path d="M1463.94 391.60V395.20M1463.94 405.20V408.80" stroke="#8FB3DA" stroke-width="4.4" stroke-linecap="round" fill="none"/>
<path d="M1489.38 391.28V394.88M1489.38 404.88V408.48" stroke="#8FB3DA" stroke-width="4.4" stroke-linecap="round" fill="none"/>
<path d="M1528.90 387.00V390.40M1528.90 400.80V404.20" stroke="#8FB3DA" stroke-width="4.4" stroke-linecap="round" fill="none"/>
<path d="M1568.04 391.28V393.68M1568.04 406.08V408.48" stroke="#8FB3DA" stroke-width="4.4" stroke-linecap="round" fill="none"/>
<path d="M1607.17 398.81V402.41M1607.17 412.41V416.01" stroke="#8FB3DA" stroke-width="4.4" stroke-linecap="round" fill="none"/>
<path d="M1646.31 403.98V406.68M1646.31 418.48V421.18" stroke="#8FB3DA" stroke-width="4.4" stroke-linecap="round" fill="none"/>
<path d="M1685.44 404.68V407.88M1685.44 418.48V421.68" stroke="#8FB3DA" stroke-width="4.4" stroke-linecap="round" fill="none"/>
<path d="M1724.97 418.92V422.02M1724.97 432.82V435.92" stroke="#8FB3DA" stroke-width="4.4" stroke-linecap="round" fill="none"/>
<path d="M1764.10 421.90V423.90M1764.10 436.90V438.90" stroke="#8FB3DA" stroke-width="4.4" stroke-linecap="round" fill="none"/>
<path d="M1783.67 411.93V417.03M1783.67 434.83V439.93" stroke="#8FB3DA" stroke-width="4.4" stroke-linecap="round" fill="none"/>
<path d="M1825.93 358.38V410.38M1825.93 429.38V481.38" stroke="#8FB3DA" stroke-width="4.4" stroke-linecap="round" fill="none"/>
<path d="M1841.98 460.89V460.89M1841.98 476.59V476.59" stroke="#8FB3DA" stroke-width="4.4" stroke-linecap="round" fill="none"/>
<path d="M1861.55 468.69V468.89M1861.55 487.29V487.49" stroke="#8FB3DA" stroke-width="4.4" stroke-linecap="round" fill="none"/>
<path d="M1900.68 468.59V468.89M1900.68 487.29V487.59" stroke="#8FB3DA" stroke-width="4.4" stroke-linecap="round" fill="none"/>
</g>
<text x="12.60" y="29.60" font-size="41" text-anchor="start" >a</text>
<text x="685.80" y="29.40" font-size="41" text-anchor="start" >b</text>
<text x="1331.40" y="29.40" font-size="41" text-anchor="start" >c</text>
<text x="317.9" y="587" font-size="34" font-style="italic">T</text><text x="346.6" y="587" font-size="34">(K)</text>
<text x="982.0" y="589.8" font-size="34" font-style="italic">T</text><text x="1011.0" y="589.8" font-size="34">(K)</text>
<text x="1640" y="583.7" font-size="34" font-style="italic">T</text>
<text x="1659.3" y="592.7" font-size="23">c</text>
<text x="1680.2" y="583.7" font-size="34">(K)</text>
<text transform="rotate(-90)" x="-357.67" y="30.00" font-size="29" font-family="'Noto Serif CJK SC', 'Liberation Serif', serif">λ</text>
<text transform="rotate(-90)" x="-341.96" y="16.60" font-size="24">-2</text>
<text transform="rotate(-90)" x="-340.46" y="39.60" font-size="24">ab</text>
<text transform="rotate(-90)" x="-304.04" y="30.20" font-size="34">(</text>
<text transform="rotate(-90)" x="-293.22" y="30.20" font-size="34" font-family="'Liberation Serif', serif">μ</text>
<text transform="rotate(-90)" x="-274.08" y="30.20" font-size="34">m</text>
<text transform="rotate(-90)" x="-245.96" y="16.60" font-size="24">-2</text>
<text transform="rotate(-90)" x="-224.74" y="30.20" font-size="34">)</text>
<text transform="rotate(-90)" x="-341.27" y="671.80" font-size="29" font-family="'Noto Serif CJK SC', 'Liberation Serif', serif">λ</text>
<text transform="rotate(-90)" x="-323.76" y="658.80" font-size="24">-2</text>
<text transform="rotate(-90)" x="-322.82" y="681.30" font-size="24">c</text>
<text transform="rotate(-90)" x="-293.44" y="672.00" font-size="34">(</text>
<text transform="rotate(-90)" x="-282.72" y="672.00" font-size="34" font-family="'Liberation Serif', serif">μ</text>
<text transform="rotate(-90)" x="-264.48" y="672.00" font-size="34">m</text>
<text transform="rotate(-90)" x="-236.36" y="658.80" font-size="24">-2</text>
<text transform="rotate(-90)" x="-215.14" y="672.00" font-size="34">)</text>
<text transform="rotate(-90)" x="-305.40" y="1349.90" font-size="31.5" font-family="'Noto Serif CJK SC', 'Liberation Serif', serif">γ</text>
<text transform="rotate(-90)" x="-282.94" y="1348.50" font-size="34">(</text>
<text transform="rotate(-90)" x="-270.68" y="1348.50" font-size="34" font-style="italic">T</text>
<text transform="rotate(-90)" x="-249.14" y="1348.50" font-size="34">)</text>
<path d="M159.10 418.50H227.10" stroke="#FF0000" stroke-width="4.7" stroke-dasharray="20 12.45 3.2 12.45" stroke-linecap="round" fill="none"/><path d="M159.10 456.90H227.10" stroke="#D02EFF" stroke-width="4.7" stroke-dasharray="16.2 22.1" stroke-linecap="round" fill="none"/><text x="238.00" y="429.8" font-size="31"><tspan font-style="italic">s</tspan>+<tspan font-style="italic">s</tspan>-wave</text><text x="237.00" y="467.6" font-size="31"><tspan font-style="italic">d</tspan>-wave</text>
<path d="M828.20 418.50H896.00" stroke="#FF0000" stroke-width="4.7" stroke-dasharray="20 12.45 3.2 12.45" stroke-linecap="round" fill="none"/><path d="M828.20 456.90H896.00" stroke="#D02EFF" stroke-width="4.7" stroke-dasharray="16.2 22.1" stroke-linecap="round" fill="none"/><text x="907.00" y="429.8" font-size="31"><tspan font-style="italic">s</tspan>+<tspan font-style="italic">s</tspan>-wave</text><text x="906.00" y="467.6" font-size="31"><tspan font-style="italic">d</tspan>-wave</text>
<path d="M1518.60 232.20L1533.50 247.10L1518.60 262.00L1503.70 247.10Z" fill="#FF0000"/>
<path d="M1502.40 300.80L1527.00 286.50L1527.00 315.10Z" fill="#0068AD"/>
<text x="1566" y="259.6" font-size="31.5" font-family="'Noto Serif CJK SC', 'Liberation Serif', serif">γ</text>
<text x="1580.5" y="267.8" font-size="23.7">Bc2</text>
<text x="1566" y="313.6" font-size="31.5" font-family="'Noto Serif CJK SC', 'Liberation Serif', serif">γ</text>
<text x="1580.0" y="321.7" font-size="20" font-family="'Noto Serif CJK SC', 'Liberation Serif', serif">λ</text>
<rect x="39.70" y="237.38" width="6.48" height="4.22" fill="#fff"/><rect x="49.23" y="237.38" width="6.04" height="4.22" fill="#fff"/><rect x="39.70" y="182.64" width="6.48" height="4.22" fill="#fff"/><rect x="49.23" y="182.64" width="6.04" height="4.22" fill="#fff"/><rect x="39.70" y="127.90" width="6.48" height="4.22" fill="#fff"/><rect x="49.23" y="127.90" width="6.04" height="4.22" fill="#fff"/><rect x="39.70" y="73.15" width="6.48" height="4.22" fill="#fff"/><rect x="49.23" y="73.15" width="6.04" height="4.22" fill="#fff"/><rect x="280.74" y="543.16" width="7.01" height="4.44" fill="#fff"/><rect x="291.05" y="543.16" width="6.55" height="4.44" fill="#fff"/><rect x="388.32" y="543.16" width="7.01" height="4.44" fill="#fff"/><rect x="398.63" y="543.16" width="6.55" height="4.44" fill="#fff"/><rect x="693.89" y="153.12" width="6.48" height="4.22" fill="#fff"/><rect x="703.41" y="153.12" width="6.04" height="4.22" fill="#fff"/><rect x="693.89" y="81.56" width="6.48" height="4.22" fill="#fff"/><rect x="703.41" y="81.56" width="6.04" height="4.22" fill="#fff"/><rect x="945.34" y="540.68" width="6.48" height="4.22" fill="#fff"/><rect x="954.86" y="540.68" width="6.04" height="4.22" fill="#fff"/><rect x="1052.94" y="540.68" width="6.48" height="4.22" fill="#fff"/><rect x="1062.46" y="540.68" width="6.04" height="4.22" fill="#fff"/><rect x="1364.50" y="92.31" width="6.48" height="4.22" fill="#fff"/><rect x="1374.03" y="92.31" width="6.04" height="4.22" fill="#fff"/><rect x="1587.81" y="540.68" width="6.48" height="4.22" fill="#fff"/><rect x="1597.33" y="540.68" width="6.04" height="4.22" fill="#fff"/><rect x="1685.65" y="540.68" width="6.48" height="4.22" fill="#fff"/><rect x="1695.17" y="540.68" width="6.04" height="4.22" fill="#fff"/>
</svg>
</body></html>
